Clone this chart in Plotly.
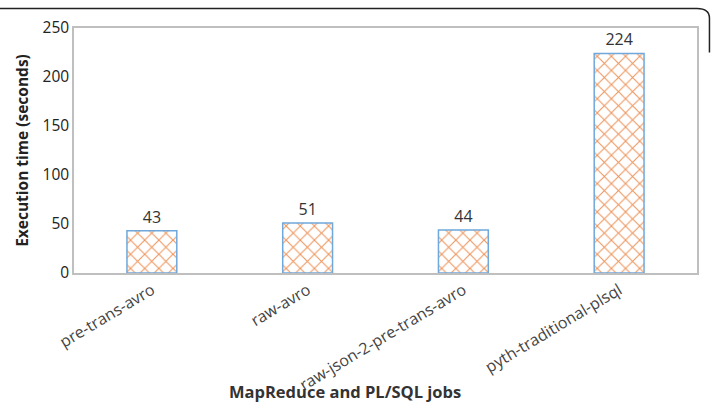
import plotly.graph_objects as go

categories = ["pre-trans-avro", "raw-avro", "raw-json-2-pre-trans-avro", "pyth-traditional-plsql"]
tick_labels = ["pre-trans-avro", "raw-avro", "raw-json-2-pre-trans-avro", "pyth-traditional-plsql"]
values = [43, 51, 44, 224]

fig = go.Figure()
fig.add_trace(go.Bar(
    x=categories, y=values,
    width=0.32,
    text=[str(v) for v in values],
    textposition="outside",
    textfont=dict(size=16, color="#333333", family="Open Sans"),
    cliponaxis=False,
    marker=dict(
        color="white",
        line=dict(color="#6FA8DC", width=1.5),
        pattern=dict(shape="x", fgcolor="#EE955C", fgopacity=1, bgcolor="white", size=10, solidity=0.2),
    ),
))

fig.update_layout(
    width=711, height=406,
    margin=dict(l=74, r=14, t=28, b=133),
    paper_bgcolor="white", plot_bgcolor="white",
    showlegend=False,
    font=dict(family="Open Sans", color="#333333"),
    xaxis=dict(
        tickvals=categories, ticktext=tick_labels,
        tickangle=-31, tickfont=dict(size=16, color="#444444"),
        showline=True, linecolor="#BFBFBF", linewidth=1.5, mirror=True,
        ticks="", automargin=False,
    ),
    yaxis=dict(
        range=[0, 250], tickvals=[0, 50, 100, 150, 200, 250],
        tickfont=dict(size=15.5, color="#222222"),
        showgrid=False, zeroline=False,
        showline=True, linecolor="#BFBFBF", linewidth=1.5, mirror=True,
        ticks="", ticklen=0, automargin=False,
        title=dict(text="<b>Execution time (seconds)</b>", font=dict(size=15.5, color="#222222"), standoff=10),
    ),
    annotations=[dict(text="<b>MapReduce and PL/SQL jobs</b>", xref="paper", yref="paper",
                      x=0.435, y=-0.485, yanchor="middle", xanchor="center",
                      showarrow=False, font=dict(size=16.5, color="#333333"))],
)

fig.add_shape(type="path", xref="paper", yref="paper",
              path="M -0.2 1.08 L 1.0 1.08 Q 1.02 1.08 1.02 1.04 L 1.02 0.9",
              line=dict(color="#222222", width=1.5))

fig.write_html("out.html")
